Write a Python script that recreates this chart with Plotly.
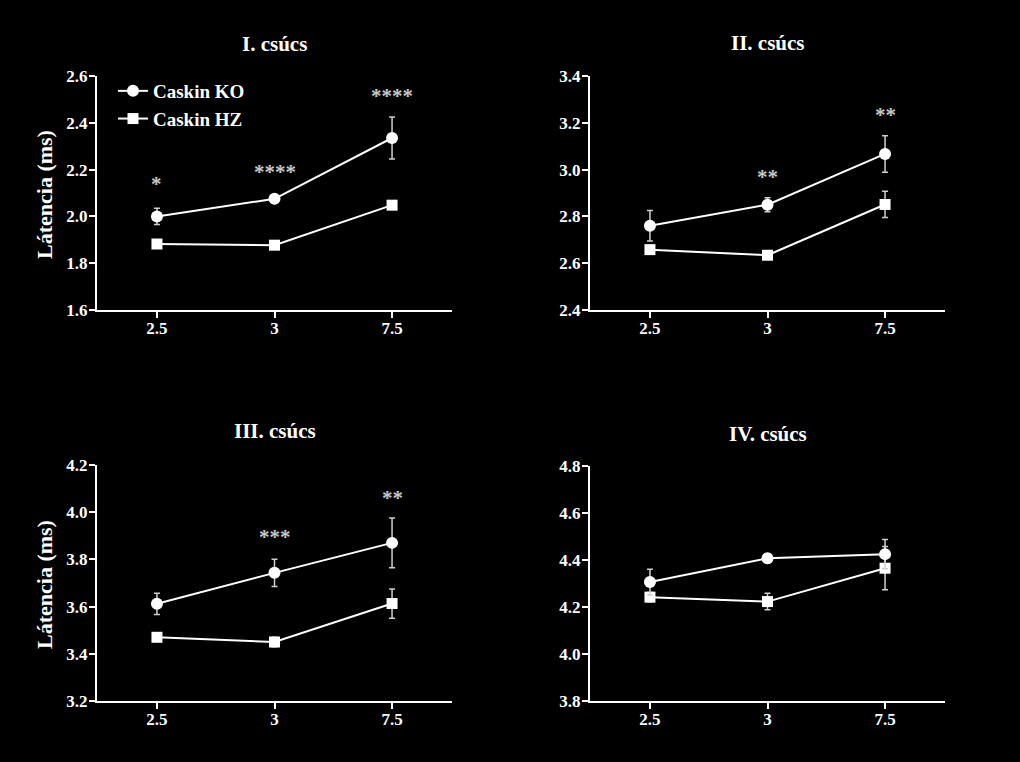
import plotly.graph_objects as go

categories = ["2.5", "3", "7.5"]

titles = ["I. csúcs", "II. csúcs", "III. csúcs", "IV. csúcs"]

ko_mean = [[2.00, 2.075, 2.335], [2.76, 2.85, 3.067], [3.612, 3.743, 3.870], [4.306, 4.407, 4.425]]
ko_err = [[0.035, 0.015, 0.09], [0.065, 0.03, 0.078], [0.045, 0.058, 0.105], [0.055, 0.02, 0.062]]
hz_mean = [[1.882, 1.877, 2.048], [2.658, 2.634, 2.851], [3.470, 3.450, 3.613], [4.242, 4.223, 4.365]]
hz_err = [[0.01, 0.01, 0.01], [0.01, 0.015, 0.056], [0.015, 0.02, 0.062], [0.02, 0.035, 0.092]]

y_ranges = [[1.6, 2.6], [2.4, 3.4], [3.2, 4.2], [3.8, 4.8]]
y_ticks = [[1.6, 1.8, 2.0, 2.2, 2.4, 2.6], [2.4, 2.6, 2.8, 3.0, 3.2, 3.4],
           [3.2, 3.4, 3.6, 3.8, 4.0, 4.2], [3.8, 4.0, 4.2, 4.4, 4.6, 4.8]]

# significance marks: (panel, category, y, text)
stars = [(0, "2.5", 2.14, "*"), (0, "3", 2.19, "****"), (0, "7.5", 2.515, "****"),
         (1, "3", 2.97, "**"), (1, "7.5", 3.235, "**"),
         (2, "3", 3.895, "***"), (2, "7.5", 4.06, "**")]

y_label = "Látencia (ms)"

W, H = 1020, 762
x_dom = [[97 / W, 452 / W], [590 / W, 945 / W], [97 / W, 452 / W], [590 / W, 945 / W]]
y_dom = [[1 - 310 / H, 1 - 76 / H], [1 - 310 / H, 1 - 76 / H],
         [1 - 701 / H, 1 - 465 / H], [1 - 701 / H, 1 - 466 / H]]
title_y = [44, 43, 431, 434]
ylabel_y = [195, 585]

FONT = "Liberation Serif"
fig = go.Figure()

for i in range(4):
    xa = "x" if i == 0 else f"x{i+1}"
    ya = "y" if i == 0 else f"y{i+1}"
    fig.add_trace(go.Scatter(
        x=categories, y=hz_mean[i], xaxis=xa, yaxis=ya, mode="lines+markers",
        name="Caskin HZ", showlegend=(i == 0), legendrank=2,
        line=dict(color="white", width=2),
        marker=dict(symbol="square", size=11, color="white"),
        error_y=dict(type="data", array=hz_err[i], color="#d0d0d0", thickness=1.5, width=3)))
    fig.add_trace(go.Scatter(
        x=categories, y=ko_mean[i], xaxis=xa, yaxis=ya, mode="lines+markers",
        name="Caskin KO", showlegend=(i == 0), legendrank=1,
        line=dict(color="white", width=2),
        marker=dict(symbol="circle", size=12, color="white"),
        error_y=dict(type="data", array=ko_err[i], color="#d0d0d0", thickness=1.5, width=3)))

    axis_common = dict(showline=True, linecolor="white", linewidth=2, ticks="outside",
                       tickcolor="white", tickwidth=2, ticklen=6, showgrid=False,
                       zeroline=False, automargin=False,
                       tickfont=dict(family=FONT, size=17, color="white", weight="bold"))
    fig.layout[f"xaxis{'' if i == 0 else i+1}"] = dict(
        axis_common, domain=x_dom[i], anchor=ya, type="category",
        range=[-0.51, 2.51], fixedrange=True, ticklabelstandoff=-4)
    fig.layout[f"yaxis{'' if i == 0 else i+1}"] = dict(
        axis_common, domain=y_dom[i], anchor=xa, range=y_ranges[i],
        tickvals=y_ticks[i], ticktext=[f"{v:.1f}" for v in y_ticks[i]],
        ticklabelstandoff=-2)

    fig.add_annotation(text=titles[i], xref="paper", yref="paper",
                       x=(x_dom[i][0] + x_dom[i][1]) / 2, y=1 - title_y[i] / H,
                       showarrow=False, xanchor="center", yanchor="middle",
                       font=dict(family=FONT, size=21, color="white", weight="bold"))

for k, yc in enumerate(ylabel_y):
    fig.add_annotation(text=y_label, xref="paper", yref="paper",
                       x=44 / W, y=1 - yc / H, textangle=-90, showarrow=False,
                       xanchor="center", yanchor="middle",
                       font=dict(family=FONT, size=22, color="white", weight="bold"))

for p, cat, yv, txt in stars:
    fig.add_annotation(text=txt, x=categories.index(cat), y=yv,
                       xref="x" if p == 0 else f"x{p+1}",
                       yref="y" if p == 0 else f"y{p+1}",
                       showarrow=False,
                       font=dict(family=FONT, size=21, color="#c8c8c8", weight="bold"))

fig.update_layout(
    width=W, height=H, paper_bgcolor="black", plot_bgcolor="black",
    margin=dict(l=0, r=0, t=0, b=0, autoexpand=False),
    legend=dict(x=113 / W, y=1 - 72 / H, xanchor="left", yanchor="top",
                bgcolor="rgba(0,0,0,0)", tracegroupgap=2,
                font=dict(family=FONT, size=19, color="white", weight="bold"),
                itemwidth=30),
)

fig.write_html("out.html")
